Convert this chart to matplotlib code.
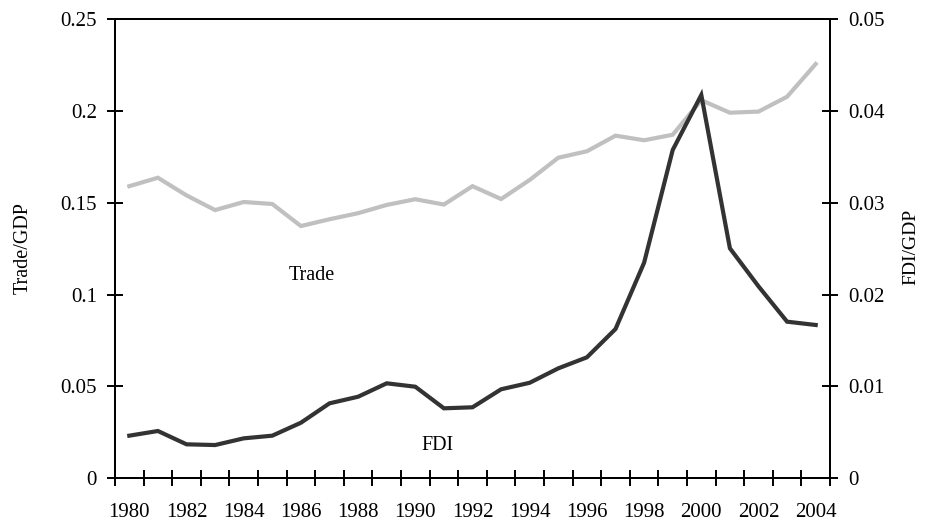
import numpy as np
from matplotlib import pyplot as plt

years = list(range(1980, 2005))
trade = [0.159, 0.1636, 0.154, 0.146, 0.1504, 0.1493, 0.1373, 0.141, 0.1443, 0.1488,
         0.1519, 0.149, 0.159, 0.152, 0.1624, 0.1745, 0.178, 0.1865, 0.184, 0.187,
         0.2058, 0.199, 0.1996, 0.2077, 0.2255]
fdi = [0.00464, 0.00515, 0.0037, 0.00362, 0.00435, 0.00464, 0.00605, 0.00816, 0.00888, 0.01034,
       0.00997, 0.00762, 0.00773, 0.00969, 0.0104, 0.01197, 0.01317, 0.01625, 0.02347, 0.03574,
       0.04173, 0.02504, 0.0209, 0.01705, 0.01669]
left_ticks = [0, 0.05, 0.1, 0.15, 0.2, 0.25]
right_ticks = [0, 0.01, 0.02, 0.03, 0.04, 0.05]

plt.rcParams['font.family'] = ['Liberation Serif', 'DejaVu Serif']

fig = plt.figure(figsize=(9.25, 5.24), dpi=100)
ax = fig.add_axes([115 / 925, 1 - 478.3 / 524, 715 / 925, 459.3 / 524])
ax2 = ax.twinx()

x = np.arange(len(years))
ax.plot(x, trade, color='#c0c0c0', lw=3, solid_joinstyle='miter')
ax2.plot(x, fdi, color='#333333', lw=3, solid_joinstyle='miter')

ax.set_xlim(-0.5, len(years) - 0.5)
ax.set_ylim(0, 0.25)
ax2.set_ylim(0, 0.05)

# category axis: ticks at boundaries, labels at every other centre
ax.set_xticks(np.arange(len(years) + 1) - 0.5)
ax.set_xticklabels([])
ax.set_xticks(x[::2], minor=True)
ax.set_xticklabels([str(y) for y in years[::2]], minor=True)
ax.tick_params(axis='x', which='major', direction='inout', length=11, width=1.4)
ax.tick_params(axis='x', which='minor', length=0, pad=18, labelsize=15)

ax.set_yticks(left_ticks)
ax.set_yticklabels(['%g' % v for v in left_ticks])
ax.tick_params(axis='y', direction='inout', length=11, width=1.4, pad=7.5, labelsize=15)
ax2.set_yticks(right_ticks)
ax2.set_yticklabels(['%g' % v for v in right_ticks])
ax2.tick_params(axis='y', direction='inout', length=11, width=1.4, pad=7.5, labelsize=15)

for a in (ax, ax2):
    for s in a.spines.values():
        s.set_linewidth(1.4)

fig.text(23 / 925, 1 - 248 / 524, 'Trade/GDP', rotation=90, ha='center', va='center', fontsize=14.5)
fig.text(911 / 925, 1 - 247 / 524, 'FDI/GDP', rotation=90, ha='center', va='center', fontsize=14)

ax.text(6.37, 0.1104, 'Trade', ha='center', va='center', fontsize=14.5)
ax.text(10.78, 0.0181, 'FDI', ha='center', va='center', fontsize=14.5)

fig.savefig('out.png', dpi=100)
